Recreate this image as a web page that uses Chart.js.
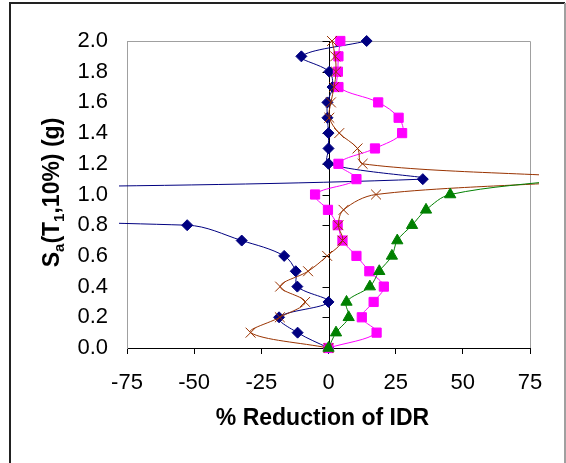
<!DOCTYPE html>
<html>
<head>
<meta charset="utf-8">
<script src="https://cdn.jsdelivr.net/npm/chart.js@4"></script>
<style>
  html, body { margin: 0; padding: 0; background: #fff; }
  canvas { display: block; }
</style>
</head>
<body>
<canvas id="myChart" width="566" height="463"></canvas>
<script>
// Niveles de intensidad Sa(T1,10%) en g (eje vertical)
var saLevels = [0.0, 0.1, 0.2, 0.3, 0.4, 0.5, 0.6, 0.7, 0.8, 0.9, 1.0,
                1.1, 1.2, 1.3, 1.4, 1.5, 1.6, 1.7, 1.8, 1.9, 2.0];

// % de reducción del IDR (los valores fuera de -75..75 salen del gráfico)
var navySeries = [0, -11.5, -18.4, 0, -11.6, -12.2, -16.5, -32.3, -52.6, -400, -300,
                  35.1, 0, 0, 0, -0.4, -0.4, 1.5, 0.3, -10.1, 14.2];
var magentaSeries = [0, 17.9, 12.4, 16.8, 20.6, 15.2, 10.4, 5.2, 3.4, -0.2, -5.0,
                     10.4, 3.7, 17.3, 27.4, 26.1, 18.5, 3.7, 3.5, 3.7, 4.4];
var brownSeries = [0, -29, -18.1, -8.7, -18.0, -7.6, -0.5, 5.2, 3.7, 5.6, 17.7,
                   95, 12.7, 10.8, 4.0, 0.3, 0.9, 2.1, 2.8, 2.5, 1.3];
var greenSeries = [0, 2.8, 7.5, 6.7, 15.4, 18.9, 23.6, 25.6, 31.1, 36.3, 45.3, 90];

// Marcas de los ejes
var xTicks = [-75, -50, -25, 0, 25, 50, 75];
var yTicks = [0.0, 0.2, 0.4, 0.6, 0.8, 1.0, 1.2, 1.4, 1.6, 1.8, 2.0];
var xTitle = '% Reduction of IDR';

var tickFont = { family: '"Liberation Sans", Arial, sans-serif', size: 22 };
var titleFont = 'bold 23px "Liberation Sans", Arial, sans-serif';
var subFont = 'bold 15px "Liberation Sans", Arial, sans-serif';

function toPoints(values) {
  return values.map(function (v, i) { return { x: v, y: saLevels[i] }; });
}

function makeSeries(values, color, style, radius, order) {
  return {
    data: toPoints(values),
    showLine: true,
    borderColor: color,
    backgroundColor: color,
    borderWidth: 1,
    pointStyle: style,
    pointRadius: radius,
    pointBorderWidth: 1,
    pointBorderColor: color,
    pointBackgroundColor: color,
    tension: 0.35,
    order: order,
    clip: { left: 8, right: 9, top: 8, bottom: 8 }
  };
}

// Marco exterior, eje vertical en x = 0 y títulos de los ejes
var decorations = {
  id: 'decorations',
  beforeDatasetsDraw: function (chart) {
    var ctx = chart.ctx;
    var area = chart.chartArea;
    var xs = chart.scales.x;
    var ys = chart.scales.y;
    ctx.save();
    // bordes superior y derecho del área de trazado
    ctx.strokeStyle = '#a0a0a0';
    ctx.lineWidth = 1;
    ctx.beginPath();
    ctx.moveTo(area.left, area.top + 0.5);
    ctx.lineTo(area.right + 0.5, area.top + 0.5);
    ctx.lineTo(area.right + 0.5, area.bottom);
    ctx.stroke();
    // eje vertical en x = 0 con sus marcas
    var x0 = Math.round(xs.getPixelForValue(0)) + 0.5;
    ctx.strokeStyle = '#000';
    ctx.beginPath();
    ctx.moveTo(x0, area.top);
    ctx.lineTo(x0, area.bottom);
    yTicks.forEach(function (v) {
      var y = Math.round(ys.getPixelForValue(v)) + 0.5;
      ctx.moveTo(x0 - 7, y);
      ctx.lineTo(x0, y);
    });
    ctx.stroke();
    ctx.restore();
  },
  afterDraw: function (chart) {
    var ctx = chart.ctx;
    ctx.save();
    // marco exterior
    ctx.lineWidth = 2;
    ctx.strokeStyle = '#222';
    ctx.beginPath();
    ctx.moveTo(10, 463);
    ctx.lineTo(10, 3);
    ctx.lineTo(565, 3);
    ctx.stroke();
    ctx.strokeStyle = '#a0a0a0';
    ctx.beginPath();
    ctx.moveTo(565, 3);
    ctx.lineTo(565, 463);
    ctx.stroke();

    // título del eje X
    ctx.fillStyle = '#000';
    ctx.font = titleFont;
    ctx.textAlign = 'center';
    ctx.textBaseline = 'alphabetic';
    ctx.fillText(xTitle, 322.5, 425);

    // título del eje Y con subíndices: Sa(T1,10%) (g)
    var parts = [
      { t: 'S', f: titleFont, dy: 0 },
      { t: 'a', f: subFont, dy: 5 },
      { t: '(T', f: titleFont, dy: 0 },
      { t: '1', f: subFont, dy: 5 },
      { t: ',10%) (g)', f: titleFont, dy: 0 }
    ];
    var total = 0;
    parts.forEach(function (p) { ctx.font = p.f; p.w = ctx.measureText(p.t).width; total += p.w; });
    ctx.translate(59, 192.5);
    ctx.rotate(-Math.PI / 2);
    ctx.textAlign = 'left';
    var pos = -total / 2;
    parts.forEach(function (p) {
      ctx.font = p.f;
      ctx.fillText(p.t, pos, p.dy);
      pos += p.w;
    });
    ctx.restore();
  }
};

var ctx = document.getElementById('myChart').getContext('2d');

var chart = new Chart(ctx, {
  type: 'scatter',
  data: {
    datasets: [
      makeSeries(navySeries, '#000080', 'rectRot', 5.5, 3),
      makeSeries(magentaSeries, '#FF00FF', 'rect', 6.5, 2),
      makeSeries(brownSeries, '#993300', 'crossRot', 7, 1),
      makeSeries(greenSeries, '#008000', 'triangle', 6.5, 0)
    ]
  },
  options: {
    responsive: false,
    animation: false,
    layout: { padding: { left: 0, right: 36, top: 41, bottom: 0 } },
    elements: { line: { capBezierPoints: false } },
    plugins: {
      legend: { display: false },
      tooltip: { enabled: false }
    },
    scales: {
      x: {
        type: 'linear',
        min: -75,
        max: 75,
        afterBuildTicks: function (scale) {
          scale.ticks = xTicks.map(function (v) { return { value: v }; });
        },
        afterFit: function (scale) { scale.height = 115; },
        ticks: {
          font: tickFont,
          color: '#000',
          padding: 16,
          autoSkip: false,
          maxRotation: 0,
          callback: function (v) { return String(v); }
        },
        grid: {
          drawOnChartArea: false,
          drawTicks: true,
          tickLength: 6,
          tickColor: '#000'
        },
        border: { display: true, color: '#000', width: 1 }
      },
      y: {
        type: 'linear',
        min: 0,
        max: 2,
        afterBuildTicks: function (scale) {
          scale.ticks = yTicks.map(function (v) { return { value: v }; });
        },
        afterFit: function (scale) { scale.width = 127; },
        ticks: {
          font: tickFont,
          color: '#000',
          padding: 19,
          autoSkip: false,
          callback: function (v) { return Number(v).toFixed(1); }
        },
        grid: {
          drawOnChartArea: false,
          drawTicks: false
        },
        border: { display: true, color: '#a0a0a0', width: 1 }
      }
    }
  },
  plugins: [decorations]
});
</script>
</body>
</html>
